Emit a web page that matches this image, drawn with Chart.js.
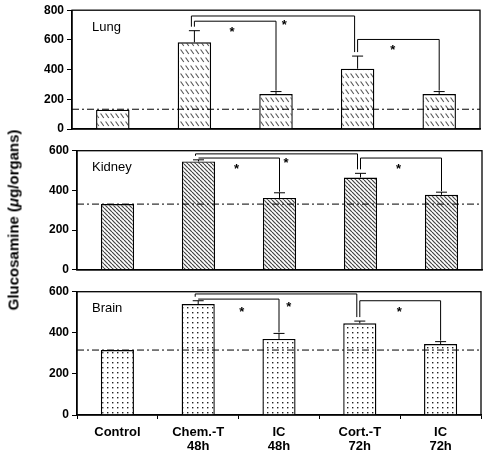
<!DOCTYPE html>
<html>
<head>
<meta charset="utf-8">
<script src="https://cdn.jsdelivr.net/npm/chart.js@4.4.1/dist/chart.umd.min.js"></script>
<style>
  html, body { margin: 0; padding: 0; background: #fff; }
  #wrap { position: relative; width: 488px; height: 456px; overflow: hidden; }
  canvas { position: absolute; left: 0; }
  #ytitle {
    position: absolute; left: 13px; top: 220px;
    transform: translate(-50%, -50%) rotate(-90deg);
    font: bold 15px "Liberation Sans", Arial, sans-serif;
    white-space: nowrap; color: #000;
  }
</style>
</head>
<body>
<div id="wrap">
  <canvas id="lung" width="488" height="140" style="top:0"></canvas>
  <canvas id="kidney" width="488" height="140" style="top:140px"></canvas>
  <canvas id="brain" width="488" height="176" style="top:280px"></canvas>
  <div id="ytitle">Glucosamine (<i>μ</i>g/organs)</div>
</div>
<script>
const FONT = '"Liberation Sans", Arial, sans-serif';

// === DATOS ===
const categories = [['Control'], ['Chem.-T', '48h'], ['IC', '48h'], ['Cort.-T', '72h'], ['IC', '72h']];

const lungValues   = [130, 584, 235, 406, 235];
const lungErrTop   = [null, 662, 252, 491, 252];
const kidneyValues = [331, 546, 362, 465, 378];
const kidneyErrTop = [null, 554, 388, 486, 391];
const brainValues  = [316, 540, 370, 446, 345];
const brainErrTop  = [null, 556, 397, 457, 357];

const controlLevels = [133, 331, 316];   // lung, kidney, brain (dash-dot line)

const lungTicks  = [0, 200, 400, 600, 800];
const organTicks = [0, 200, 400, 600];

// brackets: [from, to, level]   stars: [category position, level]
const lungBrackets   = [[1, 3, 761], [1, 2, 726], [3, 4, 603]];
const lungStars      = [[1.46, 678], [2.1, 724], [3.43, 557]];
const kidneyBrackets = [[1, 3, 584], [1, 2, 563], [3, 4, 563]];
const kidneyStars    = [[1.47, 525], [2.08, 558], [3.47, 525]];
const brainBrackets  = [[1, 3, 589], [1, 2, 564], [3, 4, 556]];
const brainStars     = [[1.54, 519], [2.12, 543], [3.49, 519]];

// === TRAMAS ===
function makePattern(w, h, draw) {
  const c = document.createElement('canvas');
  c.width = w; c.height = h;
  const g = c.getContext('2d');
  g.fillStyle = '#fff';
  g.fillRect(0, 0, w, h);
  draw(g);
  return c.getContext('2d').createPattern(c, 'repeat');
}

const lungPattern = makePattern(5, 8, g => {
  g.strokeStyle = '#555'; g.lineWidth = 1.1;
  g.beginPath(); g.moveTo(0.6, 1.5); g.lineTo(3.8, 6); g.stroke();
});
const kidneyPattern = makePattern(4, 4, g => {
  g.strokeStyle = '#444'; g.lineWidth = 1.2;
  for (let k = -1; k <= 1; k++) {
    g.beginPath(); g.moveTo(k * 4, 0); g.lineTo(k * 4 + 4, 4); g.stroke();
  }
});
const brainPattern = makePattern(5, 5, g => {
  g.fillStyle = '#222';
  g.fillRect(2, 2, 1.4, 1.4);
});

// === PLUGIN DEL PANEL ===
function panelPlugin(name, level, errTop, brackets, stars) {
  const line = (ctx, x1, y1, x2, y2) => {
    ctx.beginPath(); ctx.moveTo(x1, y1); ctx.lineTo(x2, y2); ctx.stroke();
  };
  return {
    id: 'panel',
    afterDatasetsDraw(chart) {
      const { ctx, chartArea: a, scales: { x, y } } = chart;
      const bars = chart.getDatasetMeta(0).data;
      ctx.save();
      ctx.strokeStyle = '#000';
      ctx.lineWidth = 1;

      // linea control
      ctx.setLineDash([7, 3, 2, 3]);
      const ly = y.getPixelForValue(level);
      line(ctx, a.left, ly, a.right, ly);
      ctx.setLineDash([]);

      // barras de error
      const errPx = errTop.map(e => e == null ? null : y.getPixelForValue(e));
      errPx.forEach((t, i) => {
        if (t == null) return;
        const bx = bars[i].x;
        line(ctx, bx, bars[i].y, bx, t);
        line(ctx, bx - 5.5, t, bx + 5.5, t);
      });

      // corchetes
      brackets.forEach(([from, to, lv]) => {
        const off = (to - from > 1) ? -3 : 0;
        const by = y.getPixelForValue(lv);
        const x1 = x.getPixelForValue(from) + off;
        const x2 = x.getPixelForValue(to) + off;
        line(ctx, x1, by, x2, by);
        [[from, x1], [to, x2]].forEach(([i, xx]) => {
          const gap = (i === 1 || i === 3) ? 4 : 1;
          const stop = (errPx[i] == null ? bars[i].y : errPx[i]) - gap;
          if (stop > by) line(ctx, xx, by, xx, stop);
        });
      });

      // asteriscos
      ctx.fillStyle = '#000';
      ctx.font = 'bold 13px ' + FONT;
      ctx.textAlign = 'center';
      ctx.textBaseline = 'alphabetic';
      stars.forEach(([pos, lv]) => {
        ctx.fillText('*', x.getPixelForValue(pos), y.getPixelForValue(lv) + 7.5);
      });

      // nombre del organo
      ctx.font = '13px ' + FONT;
      ctx.textAlign = 'left';
      ctx.textBaseline = 'middle';
      ctx.fillText(name, 92, a.top + 17);

      // marco
      ctx.lineWidth = 1.3;
      ctx.strokeRect(a.left, a.top, a.width, a.height);
      ctx.restore();
    }
  };
}

// === GRAFICAS ===
function makePanel(id, opt) {
  const showX = !!opt.showX;
  return new Chart(document.getElementById(id), {
    type: 'bar',
    data: {
      labels: categories,
      datasets: [{
        data: opt.values,
        backgroundColor: opt.pattern,
        borderColor: '#000',
        borderWidth: 1.4,
        barPercentage: 0.41,
        categoryPercentage: 1
      }]
    },
    options: {
      responsive: false,
      animation: false,
      layout: { padding: { top: opt.padTop, right: opt.padRight, left: 0, bottom: 0 } },
      plugins: { legend: { display: false }, tooltip: { enabled: false } },
      scales: {
        x: {
          afterFit: s => { s.height = opt.xHeight; },
          ticks: {
            display: showX, color: '#000', padding: 6, maxRotation: 0, autoSkip: false,
            font: { family: FONT, size: 13, weight: 'bold', lineHeight: 1.08 }
          },
          grid: {
            display: showX, offset: true, drawOnChartArea: false, drawTicks: true,
            tickLength: 4, color: '#000'
          },
          border: { display: true, color: '#000', width: 1.4 }
        },
        y: {
          min: 0, max: opt.ticks[opt.ticks.length - 1],
          afterBuildTicks: s => { s.ticks = opt.ticks.map(v => ({ value: v })); },
          afterFit: s => { s.width = opt.left; },
          ticks: { color: '#000', padding: 3, font: { family: FONT, size: 12, weight: 'bold' } },
          grid: { drawOnChartArea: false, drawTicks: true, tickLength: 5, color: '#000' },
          border: { display: true, color: '#000', width: 1.4 }
        }
      }
    },
    plugins: [panelPlugin(opt.name, opt.level, opt.errTop, opt.brackets, opt.stars)]
  });
}

makePanel('lung', {
  name: 'Lung', values: lungValues, errTop: lungErrTop, level: controlLevels[0],
  brackets: lungBrackets, stars: lungStars, ticks: lungTicks, pattern: lungPattern,
  left: 72, padTop: 7.5, padRight: 8, xHeight: 11
});
makePanel('kidney', {
  name: 'Kidney', values: kidneyValues, errTop: kidneyErrTop, level: controlLevels[1],
  brackets: kidneyBrackets, stars: kidneyStars, ticks: organTicks, pattern: kidneyPattern,
  left: 77, padTop: 10.7, padRight: 6, xHeight: 6.7
});
makePanel('brain', {
  name: 'Brain', values: brainValues, errTop: brainErrTop, level: controlLevels[2],
  brackets: brainBrackets, stars: brainStars, ticks: organTicks, pattern: brainPattern,
  left: 77, padTop: 11.7, padRight: 7, xHeight: 41, showX: true
});
</script>
</body>
</html>
